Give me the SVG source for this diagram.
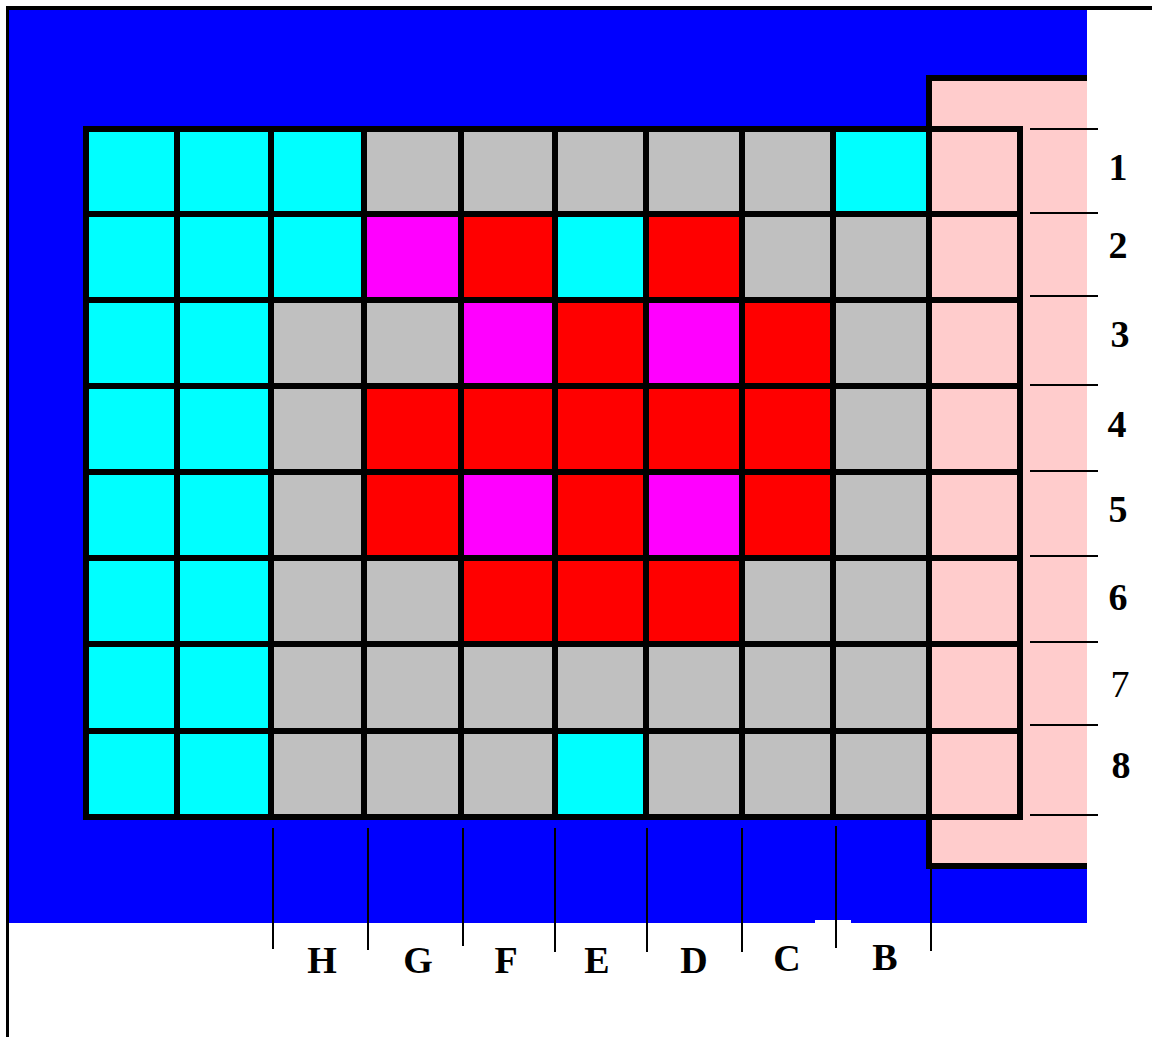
<svg xmlns="http://www.w3.org/2000/svg" width="1152" height="1037" viewBox="0 0 1152 1037">
<style>
.c{fill:#00FFFF}.g{fill:#C0C0C0}.m{fill:#FF00FF}.r{fill:#FF0000}.p{fill:#FFCCCC}
.gl{stroke:#000;stroke-width:6;fill:none;stroke-linecap:square}
.tk{stroke:#000;stroke-width:2}
.lb{font-family:"Liberation Serif","Times New Roman",serif;font-weight:bold;font-size:38px;fill:#000;text-anchor:middle}
</style>
<rect x="0" y="0" width="1152" height="1037" fill="#fff"/>
<g id="frame">
<rect x="9" y="10" width="1078" height="913" fill="#0000FF"/>
<rect x="815" y="920" width="36" height="4" fill="#fff"/>
<line x1="6" y1="8" x2="1152" y2="8" stroke="#000" stroke-width="4"/>
<line x1="7.5" y1="8" x2="7.5" y2="1037" stroke="#000" stroke-width="3"/>
</g>
<g id="pink-zone">
<rect x="929" y="78" width="158" height="788" class="p"/>
<polyline points="1087,78 929,78 929,866 1087,866" class="gl" style="stroke-linecap:butt"/>
</g>
<g id="cells">
<!-- row 1 -->
<rect x="86" y="129" width="91" height="85" class="c"/><rect x="177" y="129" width="94" height="85" class="c"/><rect x="271" y="129" width="93" height="85" class="c"/><rect x="364" y="129" width="97" height="85" class="g"/><rect x="461" y="129" width="94" height="85" class="g"/><rect x="555" y="129" width="91" height="85" class="g"/><rect x="646" y="129" width="96" height="85" class="g"/><rect x="742" y="129" width="91" height="85" class="g"/><rect x="833" y="129" width="96" height="85" class="c"/><rect x="929" y="129" width="91" height="85" class="p"/>
<!-- row 2 -->
<rect x="86" y="214" width="91" height="86" class="c"/><rect x="177" y="214" width="94" height="86" class="c"/><rect x="271" y="214" width="93" height="86" class="c"/><rect x="364" y="214" width="97" height="86" class="m"/><rect x="461" y="214" width="94" height="86" class="r"/><rect x="555" y="214" width="91" height="86" class="c"/><rect x="646" y="214" width="96" height="86" class="r"/><rect x="742" y="214" width="91" height="86" class="g"/><rect x="833" y="214" width="96" height="86" class="g"/><rect x="929" y="214" width="91" height="86" class="p"/>
<!-- row 3 -->
<rect x="86" y="300" width="91" height="86" class="c"/><rect x="177" y="300" width="94" height="86" class="c"/><rect x="271" y="300" width="93" height="86" class="g"/><rect x="364" y="300" width="97" height="86" class="g"/><rect x="461" y="300" width="94" height="86" class="m"/><rect x="555" y="300" width="91" height="86" class="r"/><rect x="646" y="300" width="96" height="86" class="m"/><rect x="742" y="300" width="91" height="86" class="r"/><rect x="833" y="300" width="96" height="86" class="g"/><rect x="929" y="300" width="91" height="86" class="p"/>
<!-- row 4 -->
<rect x="86" y="386" width="91" height="86" class="c"/><rect x="177" y="386" width="94" height="86" class="c"/><rect x="271" y="386" width="93" height="86" class="g"/><rect x="364" y="386" width="97" height="86" class="r"/><rect x="461" y="386" width="94" height="86" class="r"/><rect x="555" y="386" width="91" height="86" class="r"/><rect x="646" y="386" width="96" height="86" class="r"/><rect x="742" y="386" width="91" height="86" class="r"/><rect x="833" y="386" width="96" height="86" class="g"/><rect x="929" y="386" width="91" height="86" class="p"/>
<!-- row 5 -->
<rect x="86" y="472" width="91" height="86" class="c"/><rect x="177" y="472" width="94" height="86" class="c"/><rect x="271" y="472" width="93" height="86" class="g"/><rect x="364" y="472" width="97" height="86" class="r"/><rect x="461" y="472" width="94" height="86" class="m"/><rect x="555" y="472" width="91" height="86" class="r"/><rect x="646" y="472" width="96" height="86" class="m"/><rect x="742" y="472" width="91" height="86" class="r"/><rect x="833" y="472" width="96" height="86" class="g"/><rect x="929" y="472" width="91" height="86" class="p"/>
<!-- row 6 -->
<rect x="86" y="558" width="91" height="86" class="c"/><rect x="177" y="558" width="94" height="86" class="c"/><rect x="271" y="558" width="93" height="86" class="g"/><rect x="364" y="558" width="97" height="86" class="g"/><rect x="461" y="558" width="94" height="86" class="r"/><rect x="555" y="558" width="91" height="86" class="r"/><rect x="646" y="558" width="96" height="86" class="r"/><rect x="742" y="558" width="91" height="86" class="g"/><rect x="833" y="558" width="96" height="86" class="g"/><rect x="929" y="558" width="91" height="86" class="p"/>
<!-- row 7 -->
<rect x="86" y="644" width="91" height="87" class="c"/><rect x="177" y="644" width="94" height="87" class="c"/><rect x="271" y="644" width="93" height="87" class="g"/><rect x="364" y="644" width="97" height="87" class="g"/><rect x="461" y="644" width="94" height="87" class="g"/><rect x="555" y="644" width="91" height="87" class="g"/><rect x="646" y="644" width="96" height="87" class="g"/><rect x="742" y="644" width="91" height="87" class="g"/><rect x="833" y="644" width="96" height="87" class="g"/><rect x="929" y="644" width="91" height="87" class="p"/>
<!-- row 8 -->
<rect x="86" y="731" width="91" height="86" class="c"/><rect x="177" y="731" width="94" height="86" class="c"/><rect x="271" y="731" width="93" height="86" class="g"/><rect x="364" y="731" width="97" height="86" class="g"/><rect x="461" y="731" width="94" height="86" class="g"/><rect x="555" y="731" width="91" height="86" class="c"/><rect x="646" y="731" width="96" height="86" class="g"/><rect x="742" y="731" width="91" height="86" class="g"/><rect x="833" y="731" width="96" height="86" class="g"/><rect x="929" y="731" width="91" height="86" class="p"/>
</g>
<g id="grid-lines">
<rect x="86" y="129" width="934" height="688" class="gl"/>
<path class="gl" d="M177 129V817M271 129V817M364 129V817M461 129V817M555 129V817M646 129V817M742 129V817M833 129V817M929 129V817"/>
<path class="gl" d="M86 214H1020M86 300H1020M86 386H1020M86 472H1020M86 558H1020M86 644H1020M86 731H1020"/>
</g>
<g id="ticks">
<path class="tk" d="M1030 129H1098M1030 213H1098M1030 296H1098M1030 385H1098M1030 471H1098M1030 556H1098M1030 642H1098M1030 725H1098M1030 815H1098"/>
<path class="tk" d="M273 828V949M368 828V950M463 828V946M555 828V952M647 828V952M742 828V952M836 826V948M931 868V951"/>
</g>
<g id="row-labels">
<text class="lb" x="1118" y="180">1</text>
<text class="lb" x="1118" y="258">2</text>
<text class="lb" x="1120" y="347">3</text>
<text class="lb" x="1117" y="437">4</text>
<text class="lb" x="1118" y="522">5</text>
<text class="lb" x="1118" y="610">6</text>
<text class="lb" x="1120" y="697" style="font-weight:normal">7</text>
<text class="lb" x="1121" y="778">8</text>
</g>
<g id="column-labels">
<text class="lb" x="322" y="973">H</text>
<text class="lb" x="418" y="973">G</text>
<text class="lb" x="506" y="973">F</text>
<text class="lb" x="597" y="973">E</text>
<text class="lb" x="694" y="973">D</text>
<text class="lb" x="787" y="971">C</text>
<text class="lb" x="885" y="970">B</text>
</g>
</svg>
